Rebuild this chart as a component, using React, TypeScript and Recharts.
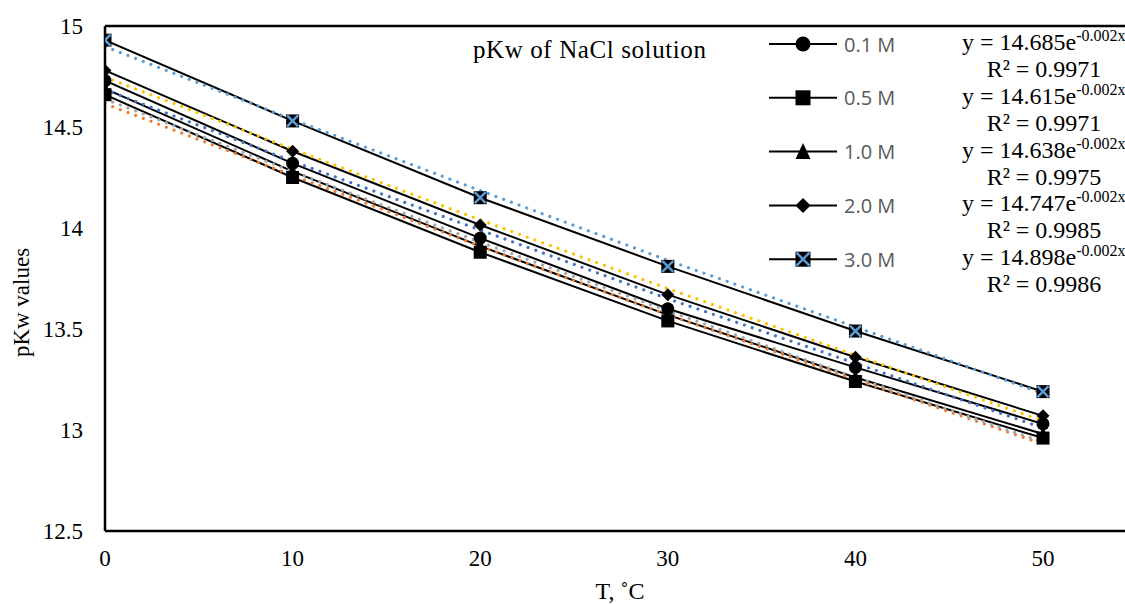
import React from 'react';
import { LineChart, Line, XAxis, YAxis, ReferenceLine, Legend } from 'recharts';

// ---- data ----
const temperatures = [0, 10, 20, 30, 40, 50];
const pkw01 = [14.73, 14.32, 13.95, 13.6, 13.31, 13.03];
const pkw05 = [14.66, 14.25, 13.88, 13.54, 13.24, 12.96];
const pkw10 = [14.69, 14.28, 13.91, 13.57, 13.26, 12.98];
const pkw20 = [14.78, 14.38, 14.015, 13.67, 13.36, 13.07];
const pkw30 = [14.93, 14.53, 14.15, 13.81, 13.49, 13.19];

// exponential trendlines
const trend01 = [14.685, 14.33, 13.99, 13.65, 13.33, 13.01];
const trend05 = [14.615, 14.26, 13.91, 13.57, 13.25, 12.93];
const trend10 = [14.638, 14.28, 13.93, 13.59, 13.26, 12.94];
const trend20 = [14.747, 14.39, 14.04, 13.7, 13.37, 13.045];
const trend30 = [14.898, 14.537, 14.185, 13.84, 13.51, 13.18];

const seriesNames = ['0.1 M', '0.5 M', '1.0 M', '2.0 M', '3.0 M'];
const trendCoeffs = ['14.685', '14.615', '14.638', '14.747', '14.898'];
const trendExponent = '-0.002x';
const rSquared = ['0.9971', '0.9971', '0.9975', '0.9985', '0.9986'];
const trendColors = ['#4472C4', '#ED7D31', '#A5A5A5', '#FFC000', '#5B9BD5'];
const markerShapes = ['circle', 'square', 'triangle', 'diamond', 'xsquare'];

const xTicks = [0, 10, 20, 30, 40, 50];
const yTicks = [12.5, 13, 13.5, 14, 14.5, 15];
const chartTitle = 'pKw of NaCl solution';
const xTitle = 'T, ˚C';
const yTitle = 'pKw values';

const seriesValues = [pkw01, pkw05, pkw10, pkw20, pkw30];
const trendValues = [trend01, trend05, trend10, trend20, trend30];

const data = temperatures.map((t, i) => {
  const row: Record<string, number> = { t };
  seriesValues.forEach((s, k) => (row['s' + k] = s[i]));
  trendValues.forEach((s, k) => (row['tr' + k] = s[i]));
  return row;
});

const W = 1125;
const H = 604;
const SERIF = '"Liberation Serif", "Times New Roman", serif';
const SANS = '"Open Sans", "Liberation Sans", sans-serif';

function Marker({ shape, cx, cy, size }: { shape: string; cx: number; cy: number; size: number }) {
  const h = size / 2;
  if (cx == null || cy == null || isNaN(cx) || isNaN(cy)) return null;
  switch (shape) {
    case 'circle':
      return <circle cx={cx} cy={cy} r={h} fill="#000" />;
    case 'square':
      return <rect x={cx - h} y={cy - h} width={size} height={size} fill="#000" />;
    case 'triangle':
      return <polygon points={`${cx},${cy - h - 1} ${cx + h},${cy + h} ${cx - h},${cy + h}`} fill="#000" />;
    case 'diamond':
      return <polygon points={`${cx},${cy - h} ${cx + h},${cy} ${cx},${cy + h} ${cx - h},${cy}`} fill="#000" />;
    default:
      return (
        <g>
          <rect x={cx - h} y={cy - h} width={size} height={size} fill="#000" />
          <line x1={cx - h + 1} y1={cy - h + 1} x2={cx + h - 1} y2={cy + h - 1} stroke="#5B9BD5" strokeWidth={2.5} />
          <line x1={cx - h + 1} y1={cy + h - 1} x2={cx + h - 1} y2={cy - h + 1} stroke="#5B9BD5" strokeWidth={2.5} />
        </g>
      );
  }
}

function Overlay() {
  const rowY = (i: number) => 44 + i * 53.8;
  return (
    <svg width={W} height={H} style={{ position: 'absolute', left: 0, top: 0, overflow: 'hidden' }}>
      <text x={473} y={58} fontFamily={SERIF} fontSize={25} fill="#000" letterSpacing={0.6}>
        {chartTitle}
      </text>
      {seriesNames.map((name, i) => {
        const y = rowY(i);
        return (
          <g key={name}>
            <line x1={769} x2={837} y1={y} y2={y} stroke="#000" strokeWidth={2} />
            <Marker shape={markerShapes[i]} cx={803} cy={y} size={15} />
            <text x={844} y={y + 7.5} fontFamily={SANS} fontSize={20} fill="#595959">
              {name}
            </text>
            <text x={962} y={y + 6} fontFamily={SERIF} fontSize={24} fill="#000">
              <tspan>{`y = ${trendCoeffs[i]}e`}</tspan>
              <tspan dy={-9} fontSize={16}>{trendExponent}</tspan>
            </text>
            <text x={1044} y={y + 33} fontFamily={SERIF} fontSize={24} fill="#000" textAnchor="middle">
              {`R² = ${rSquared[i]}`}
            </text>
          </g>
        );
      })}
    </svg>
  );
}

const renderXTick = (props: any) => {
  const { x, y, payload, index } = props;
  return (
    <text key={`xt-${index}`} x={x} y={y + 16} textAnchor="middle" fontFamily={SERIF} fontSize={23} fill="#000">
      {payload.value}
    </text>
  );
};

const renderYTick = (props: any) => {
  const { x, y, payload, index } = props;
  return (
    <text key={`yt-${index}`} x={x} y={y + 8} textAnchor="end" fontFamily={SERIF} fontSize={23} fill="#000">
      {payload.value}
    </text>
  );
};

const YLabel = (props: any) => {
  const vb = props.viewBox || { x: 0, y: 26, width: 105, height: 505 };
  const cx = vb.x + 29;
  const cy = vb.y + vb.height / 2 + 24;
  return (
    <text x={cx} y={cy} transform={`rotate(-90 ${cx} ${cy})`} textAnchor="middle" fontFamily={SERIF} fontSize={23} fill="#000">
      {yTitle}
    </text>
  );
};

const XLabel = (props: any) => {
  const vb = props.viewBox || { x: 105, y: 531, width: 1020, height: 73 };
  const cx = vb.x + vb.width / 2 + 5;
  const cy = vb.y + vb.height - 5;
  return (
    <text x={cx} y={cy} textAnchor="middle" fontFamily={SERIF} fontSize={24} fill="#000">
      {xTitle}
    </text>
  );
};

export default function App() {
  return (
    <div
      style={{
        position: 'absolute',
        left: 0,
        top: 0,
        width: W,
        height: H,
        overflow: 'hidden',
        background: '#fff',
        fontFamily: SERIF,
      }}
    >
      <LineChart width={W} height={H} data={data} margin={{ top: 26, right: 0, bottom: 0, left: 0 }}>
        <XAxis
          dataKey="t"
          type="number"
          domain={[0, 54.37]}
          ticks={xTicks}
          allowDataOverflow
          height={73}
          tickLine={false}
          tickSize={0}
          tickMargin={19}
          axisLine={{ stroke: '#000', strokeWidth: 2.5 }}
          tick={renderXTick}
          label={<XLabel />}
        />
        <YAxis
          type="number"
          domain={[12.5, 15]}
          ticks={yTicks}
          allowDataOverflow
          width={105}
          tickLine={false}
          tickSize={0}
          tickMargin={22}
          axisLine={{ stroke: '#000', strokeWidth: 2.5 }}
          tick={renderYTick}
          label={<YLabel />}
        />
        <ReferenceLine y={15} stroke="#000" strokeWidth={2.5} ifOverflow="visible" />
        {seriesNames.map((name, k) => (
          <Line
            key={'s' + k}
            dataKey={'s' + k}
            name={name}
            stroke="#000"
            strokeWidth={2}
            isAnimationActive={false}
            dot={(p: any) => <Marker key={`m${k}-${p.index}`} shape={markerShapes[k]} cx={p.cx} cy={p.cy} size={13} />}
            activeDot={false}
          />
        ))}
        {seriesNames.map((name, k) => (
          <Line
            key={'tr' + k}
            dataKey={'tr' + k}
            name={`Expon. (${name})`}
            stroke={trendColors[k]}
            strokeWidth={3.2}
            strokeDasharray="0.01 8.2"
            strokeLinecap="round"
            dot={false}
            activeDot={false}
            isAnimationActive={false}
            legendType="none"
          />
        ))}
        <Legend
          layout="horizontal"
          verticalAlign="middle"
          align="center"
          wrapperStyle={{ left: 0, top: 0, width: W, height: H, pointerEvents: 'none' }}
          content={() => <Overlay />}
        />
      </LineChart>
    </div>
  );
}
